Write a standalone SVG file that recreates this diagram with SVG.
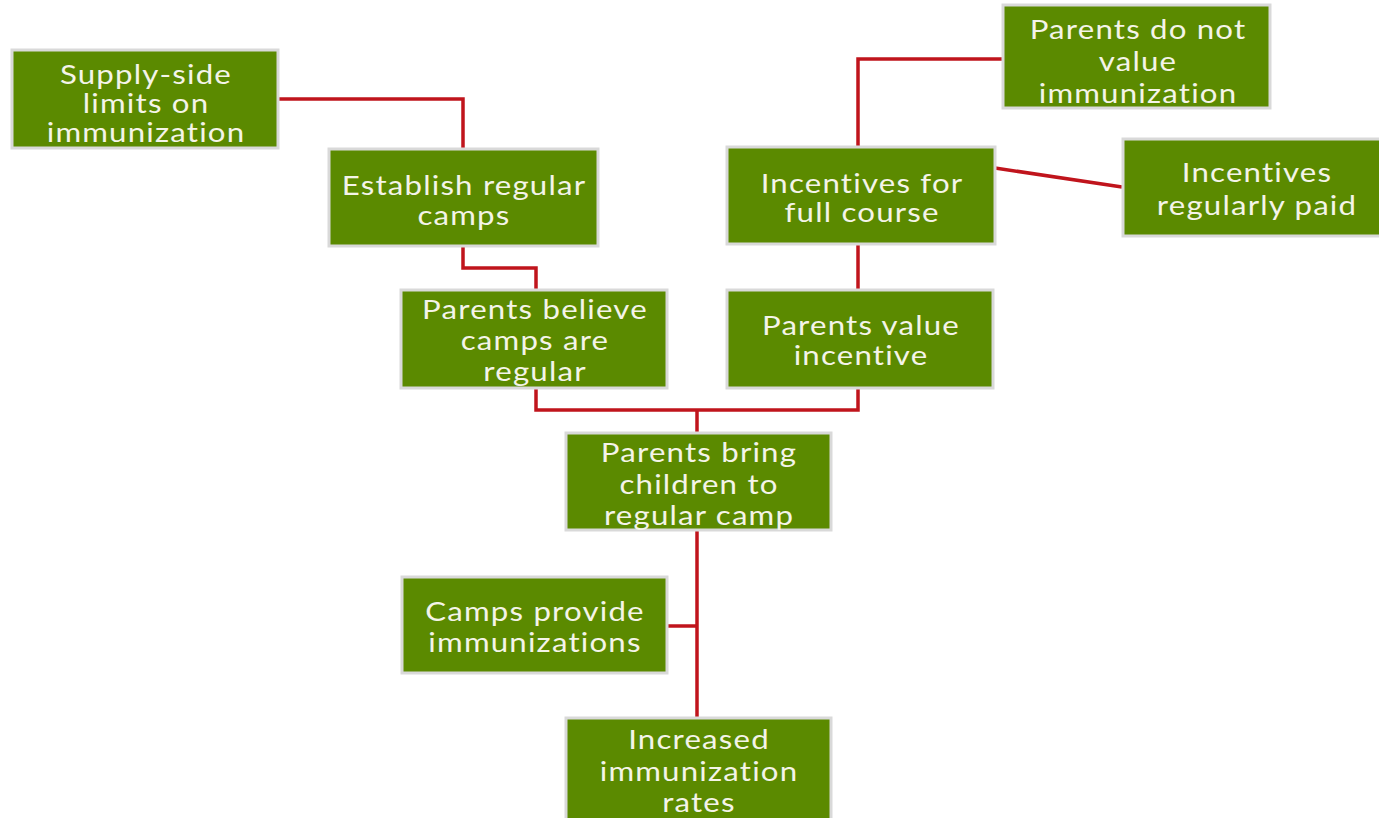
<svg xmlns="http://www.w3.org/2000/svg" width="1379" height="818" viewBox="0 0 1379 818">
<style>
.box{fill:#5b8a00;stroke:#d9d9d9;stroke-width:3}
.t{font-family:Lato,"Open Sans",sans-serif;font-size:26px;fill:#f4f4e8;text-anchor:middle;letter-spacing:1px}
.c{fill:none;stroke:#c0141c;stroke-width:3.5;stroke-linejoin:miter}
</style>
<rect width="1379" height="818" fill="#ffffff"/>
<g id="connectors">
<polyline class="c" points="278,99 463,99 463,149"/>
<polyline class="c" points="463,246 463,268 536,268 536,290"/>
<polyline class="c" points="1003,59 858,59 858,147"/>
<polyline class="c" points="995,168 1122,187"/>
<polyline class="c" points="858,244 858,290"/>
<polyline class="c" points="536,388 536,410 858,410 858,388"/>
<polyline class="c" points="697,410 697,433"/>
<polyline class="c" points="697,530 697,718"/>
<polyline class="c" points="667,626 697,626"/>
</g>
<g id="supply"><rect class="box" x="12" y="50" width="266" height="98"/><g transform="translate(146 0) scale(1.2 1)"><text class="t" x="0" y="84">Supply-side</text><text class="t" x="0" y="113">limits on</text><text class="t" x="0" y="142">immunization</text></g></g>
<g id="establish"><rect class="box" x="329" y="149" width="269" height="97"/><g transform="translate(464 0) scale(1.2 1)"><text class="t" x="0" y="195">Establish regular</text><text class="t" x="0" y="225">camps</text></g></g>
<g id="notvalue"><rect class="box" x="1003" y="5" width="267" height="103"/><g transform="translate(1138 0) scale(1.2 1)"><text class="t" x="0" y="39">Parents do not</text><text class="t" x="0" y="71">value</text><text class="t" x="0" y="103">immunization</text></g></g>
<g id="fullcourse"><rect class="box" x="727" y="147" width="268" height="97"/><g transform="translate(862 0) scale(1.2 1)"><text class="t" x="0" y="193">Incentives for</text><text class="t" x="0" y="222">full course</text></g></g>
<g id="regpaid"><rect class="box" x="1123" y="139" width="262" height="97"/><g transform="translate(1257 0) scale(1.2 1)"><text class="t" x="0" y="182">Incentives</text><text class="t" x="0" y="215">regularly paid</text></g></g>
<g id="believe"><rect class="box" x="401" y="290" width="266" height="98"/><g transform="translate(535 0) scale(1.2 1)"><text class="t" x="0" y="319">Parents believe</text><text class="t" x="0" y="350">camps are</text><text class="t" x="0" y="381">regular</text></g></g>
<g id="valueinc"><rect class="box" x="727" y="290" width="266" height="98"/><g transform="translate(861 0) scale(1.2 1)"><text class="t" x="0" y="335">Parents value</text><text class="t" x="0" y="365">incentive</text></g></g>
<g id="bring"><rect class="box" x="566" y="433" width="265" height="97"/><g transform="translate(699 0) scale(1.2 1)"><text class="t" x="0" y="462">Parents bring</text><text class="t" x="0" y="494">children to</text><text class="t" x="0" y="525">regular camp</text></g></g>
<g id="provide"><rect class="box" x="402" y="577" width="265" height="96"/><g transform="translate(535 0) scale(1.2 1)"><text class="t" x="0" y="621">Camps provide</text><text class="t" x="0" y="652">immunizations</text></g></g>
<g id="increased"><rect class="box" x="566" y="718" width="265" height="103"/><g transform="translate(699 0) scale(1.2 1)"><text class="t" x="0" y="749">Increased</text><text class="t" x="0" y="781">immunization</text><text class="t" x="0" y="812">rates</text></g></g>
</svg>
